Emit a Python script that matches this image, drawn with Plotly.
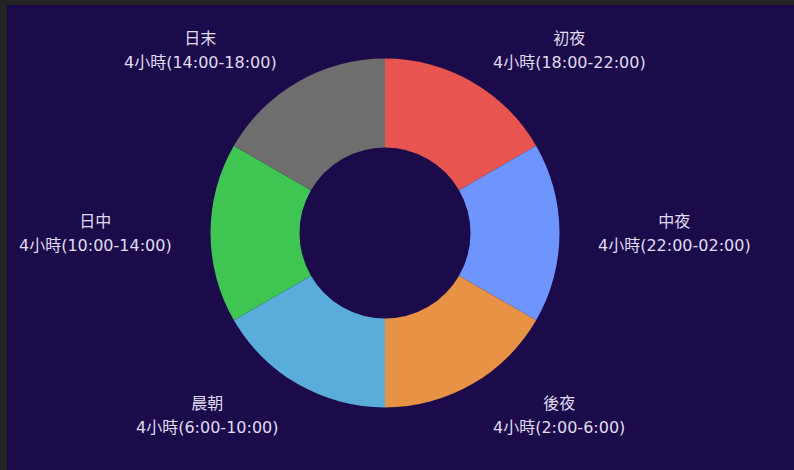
import math
import plotly.graph_objects as go

# ---- data ----
periods = ["初夜", "中夜", "後夜", "晨朝", "日中", "日末"]
hours = [4, 4, 4, 4, 4, 4]
ranges = ["18:00-22:00", "22:00-02:00", "2:00-6:00", "6:00-10:00", "10:00-14:00", "14:00-18:00"]
colors = ["#e8544f", "#6e95fe", "#e89245", "#5aaddb", "#3ec552", "#6e6e6e"]

# ---- layout constants (pixels) ----
W, H = 794, 470
CX, CY = 385, 233
R = 174.5
R_LABEL = 211
BG = "#1b0b4b"
FRAME = "#242424"
TXT = "#e0dcef"

def px_x(x):
    return x / W

def px_y(y):
    return 1 - y / H

fig = go.Figure(go.Pie(
    labels=periods,
    values=hours,
    marker=dict(colors=colors, line=dict(width=0)),
    hole=0.49,
    sort=False,
    direction="clockwise",
    rotation=0,
    textinfo="none",
    showlegend=False,
    domain=dict(x=[px_x(CX - R), px_x(CX + R)], y=[px_y(CY + R), px_y(CY - R)]),
))

annotations = []
total = sum(hours)
acc = 0
for name, h, rg in zip(periods, hours, ranges):
    mid = (acc + h / 2) / total * 2 * math.pi
    acc += h
    x = CX + R_LABEL * math.sin(mid)
    y = CY - R_LABEL * math.cos(mid)
    right = math.sin(mid) >= 0
    text = (f"<span style='font-size:16px'>{name}</span><br><br>"
            f"<span style='font-size:16px'>{h}小時({rg})</span>")
    annotations.append(dict(
        x=px_x(x), y=px_y(y), xref="paper", yref="paper",
        text=text, showarrow=False, align="center",
        xanchor="left" if right else "right", yanchor="middle",
        font=dict(size=9.3, color=TXT, family="DejaVu Sans, Noto Sans CJK TC"),
    ))

fig.update_layout(
    width=W, height=H,
    margin=dict(l=0, r=0, t=0, b=0),
    paper_bgcolor=FRAME,
    plot_bgcolor=BG,
    annotations=annotations,
    shapes=[dict(type="rect", xref="paper", yref="paper",
                 x0=px_x(7), x1=1.01, y0=-0.01, y1=px_y(5),
                 fillcolor=BG, line=dict(width=0), layer="below")],
)

fig.write_html("out.html")
